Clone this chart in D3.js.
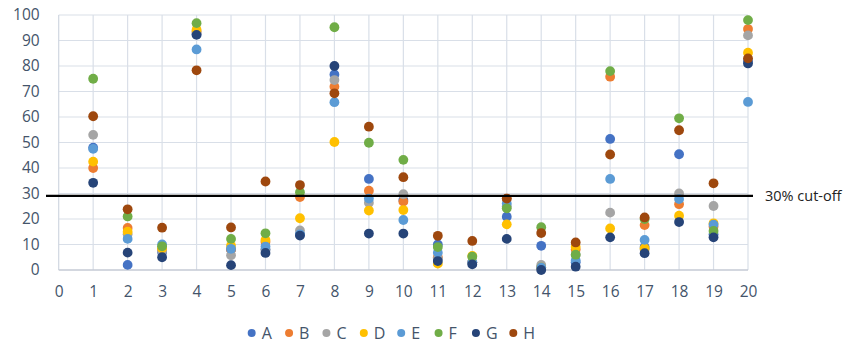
<!DOCTYPE html>
<html><head><meta charset="utf-8">
<script src="https://cdn.jsdelivr.net/npm/d3@7"></script>
<style>body{margin:0;background:#fff}svg{display:block}</style>
</head><body>
<svg id="chart" width="845" height="350"></svg>
<script>
const xValues = [1,2,3,4,5,6,7,8,9,10,11,12,13,14,15,16,17,18,19,20];
const seriesNames = ["A","B","C","D","E","F","G","H"];
const seriesColors = ["#4472C4","#ED7D31","#A5A5A5","#FFC000","#5B9BD5","#70AD47","#264478","#9E480E"];
const A = [48,2,7,92.5,8,8,14,76.7,35.7,27.5,10,3,20.9,9.5,3,51.4,9,45.4,14,82];
const B = [40,16.5,8,93.5,8,11,28.6,71.9,31.1,26.8,5,3,28,1,8,75.8,17.6,25.8,17,94.5];
const C = [53,14,7.5,93,5.8,8,15.5,74.5,26.4,29.7,4.5,3,25,2,6,22.5,8,30,25.1,92];
const D = [42.5,15,8.5,94.2,9.5,11.8,20.3,50.2,23.3,23.5,2.5,5.5,17.9,1,9,16.3,8.5,21.3,18.3,85.2];
const E = [47.5,12.2,10,86.5,8.3,9.2,14,65.8,28,19.6,6.8,3,26.1,1,3.7,35.7,11.8,27.8,17.8,65.9];
const F = [75,21,9.3,96.8,12.2,14.4,30.5,95.2,49.9,43.2,9,5.2,24.2,16.8,6,78,20,59.5,15.3,98];
const G = [34.2,6.8,5,92.2,1.9,6.7,13.5,80,14.3,14.3,3.5,2.2,12.2,0,1.3,12.8,6.6,18.8,12.8,81];
const H = [60.3,23.8,16.6,78.3,16.7,34.7,33.3,69.3,56.2,36.4,13.4,11.4,28,14.5,10.8,45.3,20.6,54.8,34,83];
const seriesValues = [A,B,C,D,E,F,G,H];
const xTicks = d3.range(0,21);
const yTicks = d3.range(0,101,10);
const cutoffValue = 29.1;
const cutoffLabel = "30% cut-off";

const svg = d3.select("#chart");
const x = d3.scaleLinear().domain([0,20]).range([58.7,748]);
const y = d3.scaleLinear().domain([0,100]).range([270,15]);
const tickColor = "#44546A";
const font = "'Open Sans', 'Noto Sans', sans-serif";

// gridlines
const grid = svg.append("g");
grid.selectAll("line.h").data(yTicks.filter(d=>d>0)).enter().append("line")
  .attr("x1", x(0)).attr("x2", x(20)).attr("y1", d=>y(d)).attr("y2", d=>y(d))
  .attr("stroke","#d9dfe8").attr("stroke-width",1.2);
grid.selectAll("line.v").data(xTicks.filter(d=>d>0)).enter().append("line")
  .attr("x1", d=>x(d)).attr("x2", d=>x(d)).attr("y1", y(0)).attr("y2", y(100))
  .attr("stroke","#d9dfe8").attr("stroke-width",1.2);
// axes lines
svg.append("line").attr("x1",x(0)).attr("x2",x(0)).attr("y1",y(0)).attr("y2",y(100))
  .attr("stroke","#d0d6e0").attr("stroke-width",1.2);
svg.append("line").attr("x1",x(0)).attr("x2",x(20)).attr("y1",y(0)).attr("y2",y(0))
  .attr("stroke","#c4cad4").attr("stroke-width",1.5);

// axes labels via d3 axes
const yAxis = svg.append("g").attr("transform",`translate(${x(0)-4},0)`)
  .call(d3.axisLeft(y).tickValues(yTicks).tickSize(0).tickPadding(15));
yAxis.select(".domain").remove();
yAxis.selectAll("text").attr("fill",tickColor).style("font-family",font).style("font-size","15.5px");

const xAxis = svg.append("g").attr("transform",`translate(0,${y(0)})`)
  .call(d3.axisBottom(x).tickValues(xTicks).tickSize(0).tickPadding(16).tickFormat(d3.format("d")));
xAxis.select(".domain").remove();
xAxis.selectAll("text").attr("fill",tickColor).style("font-family",font).style("font-size","15.5px");

// points
seriesValues.forEach((vals,i)=>{
  svg.append("g").selectAll("circle").data(vals).enter().append("circle")
    .attr("cx",(d,j)=>x(xValues[j])).attr("cy",d=>y(d)).attr("r",4.9)
    .attr("fill",seriesColors[i]);
});

// cutoff line
svg.append("line").attr("x1",46).attr("x2",753).attr("y1",y(cutoffValue)).attr("y2",y(cutoffValue))
  .attr("stroke","#000").attr("stroke-width",2.2);
svg.append("text").attr("x",765).attr("y",y(cutoffValue)).attr("dy","0.35em")
  .attr("fill","#222").style("font-family",font).style("font-size","14.5px").text(cutoffLabel);

// legend
const legend = svg.append("g").attr("transform","translate(0,333)");
const legX = d3.scalePoint().domain(seriesNames).range([251.7,513.3]);
const li = legend.selectAll("g").data(seriesNames).enter().append("g")
  .attr("transform",d=>`translate(${legX(d)},0)`);
li.append("circle").attr("r",4).attr("fill",(d,i)=>seriesColors[i]);
li.append("text").attr("x",10).attr("dy","0.35em").attr("fill",tickColor)
  .style("font-family",font).style("font-size","16px").text(d=>d);
</script>
</body></html>
